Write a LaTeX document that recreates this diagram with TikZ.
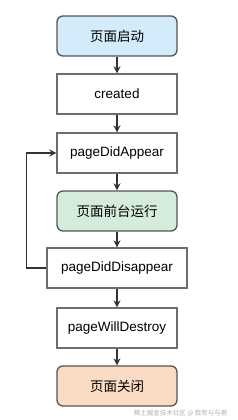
\documentclass[tikz,border=0pt]{standalone}
\usepackage{fontspec}
\setmainfont{Liberation Sans}
\newfontfamily\cjk{Noto Sans CJK SC}
\usetikzlibrary{arrows.meta}
\definecolor{bluefill}{HTML}{D4EBFB}
\definecolor{greenfill}{HTML}{D5EBDB}
\definecolor{orangefill}{HTML}{FADBC4}
\definecolor{boxline}{HTML}{6E6E6E}
\definecolor{roundline}{HTML}{555555}
\definecolor{arrline}{HTML}{333333}
\definecolor{wmark}{HTML}{B0B0B0}
\tikzset{
  plainbox/.style={draw=boxline, line width=1.3pt, fill=white, minimum width=120pt, minimum height=40pt, inner sep=0pt, font=\fontsize{13.5}{16}\selectfont},
  roundbox/.style={plainbox, draw=roundline, rounded corners=6pt, font=\cjk\fontsize{13.5}{16}\selectfont},
  arr/.style={draw=arrline, line width=1.2pt, -{Stealth[length=7pt,width=7pt]}}
}
\begin{document}
\begin{tikzpicture}[x=1pt,y=-1pt]
\useasboundingbox (0,0) rectangle (238,420);
\fill[white] (0,0) rectangle (238,420);
\node[roundbox, fill=bluefill] (n1) at (117,36) {页面启动};
\node[plainbox] (n2) at (117,94) {created};
\node[plainbox] (n3) at (117,153) {pageDidAppear};
\node[roundbox, fill=greenfill] (n4) at (117,211) {页面前台运行};
\node[plainbox, minimum width=140pt] (n5) at (117,268) {pageDidDisappear};
\node[plainbox] (n6) at (117,328) {pageWillDestroy};
\node[roundbox, fill=orangefill] (n7) at (117,386) {页面关闭};
\draw[arr] (n1) -- (n2);
\draw[arr] (n2) -- (n3);
\draw[arr] (n3) -- (n4);
\draw[arr] (n4) -- (n5);
\draw[arr] (n5) -- (n6);
\draw[arr] (n6) -- (n7);
\draw[arr] (n5.west) -- ++(-20,0) |- (n3.west);
\node[text=wmark, font=\cjk\fontsize{6.5}{8}\selectfont, anchor=east] (wm) at (231,413) {稀土掘金技术社区 @ 我有与与君};
\end{tikzpicture}
\end{document}
